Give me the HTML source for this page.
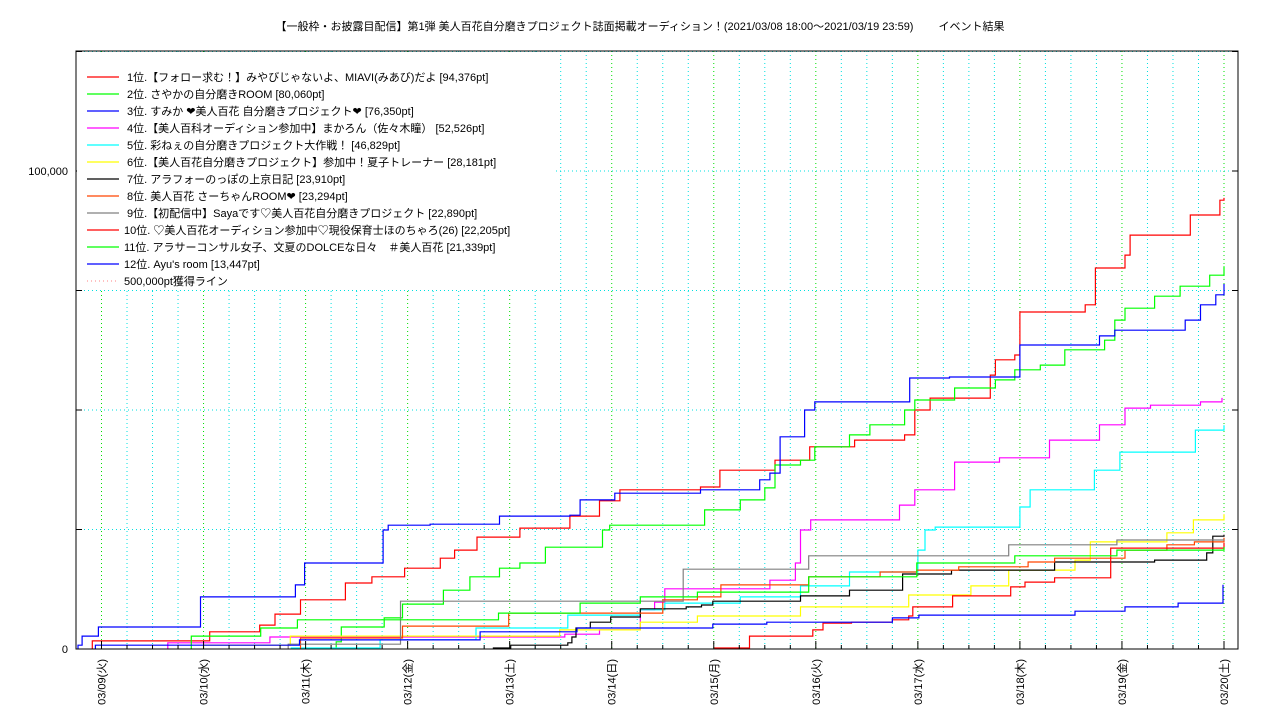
<!DOCTYPE html>
<html><head><meta charset="utf-8">
<style>
body{margin:0;background:#fff;}
svg text{font-family:"Liberation Sans","Noto Sans CJK JP",sans-serif;fill:#000;}
</style></head>
<body>
<svg id="chart" width="1280" height="720" xmlns="http://www.w3.org/2000/svg">
<text x="640" y="30" font-size="11" text-anchor="middle">【一般枠・お披露目配信】第1弾 美人百花自分磨きプロジェクト誌面掲載オーディション！(2021/03/08 18:00〜2021/03/19 23:59)　　 イベント結果</text>
<g id="grid"></g>
<g id="series"></g>
<rect x="76" y="51" width="1162" height="598" fill="none" stroke="#000" stroke-width="1"/>
<g id="axes"></g>
<g id="legend"></g>
</svg>
<script>
const dayLabels = ["03/09(火)","03/10(水)","03/11(木)","03/12(金)","03/13(土)","03/14(日)","03/15(月)","03/16(火)","03/17(水)","03/18(木)","03/19(金)","03/20(土)"];
const yTicks = [0, 100000];
const seriesNames = [
"1位.【フォロー求む！】みやびじゃないよ、MIAVI(みあび)だよ [94,376pt]",
"2位. さやかの自分磨きROOM [80,060pt]",
"3位. すみか ❤美人百花 自分磨きプロジェクト❤ [76,350pt]",
"4位.【美人百科オーディション参加中】まかろん（佐々木瞳） [52,526pt]",
"5位. 彩ねぇの自分磨きプロジェクト大作戦！ [46,829pt]",
"6位.【美人百花自分磨きプロジェクト】参加中！夏子トレーナー [28,181pt]",
"7位. アラフォーのっぽの上京日記 [23,910pt]",
"8位. 美人百花 さーちゃんROOM❤ [23,294pt]",
"9位.【初配信中】Sayaです♡美人百花自分磨きプロジェクト [22,890pt]",
"10位. ♡美人百花オーディション参加中♡現役保育士ほのちゃろ(26) [22,205pt]",
"11位. アラサーコンサル女子、文夏のDOLCEな日々　＃美人百花 [21,339pt]",
"12位. Ayu's room [13,447pt]"
];
const seriesColors = ["#ff0000","#00ff00","#0000ff","#ff00ff","#00ffff","#ffff00","#000000","#ff4500","#808080","#ff0000","#00ff00","#0000ff"];
// [day offset from 03/09 00:00, points]
const s1 = [[-0.09,1700],[1.06,3600],[1.55,5000],[1.70,7300],[1.95,10300],[2.39,13800],[2.65,15100],[2.97,16900],[3.32,19000],[3.46,20700],[3.68,23400],[4.10,25300],[4.59,27800],[4.88,31000],[5.08,33300],[5.87,33900],[6.06,37400],[6.60,39500],[6.94,42300],[7.38,43700],[7.87,44800],[7.97,50000],[8.12,52500],[8.71,57300],[8.76,60500],[8.95,61500],[9.00,70500],[9.64,72000],[9.74,79700],[10.03,82400],[10.08,86600],[10.67,90800],[10.96,93900],[11.00,94376]];
const s2 = [[2.30,1500],[2.35,4600],[2.77,6500],[2.95,9400],[3.35,12300],[3.61,15100],[3.90,16900],[4.10,18000],[4.35,21300],[4.91,24900],[4.98,25900],[5.91,29100],[6.26,31200],[6.50,33700],[6.60,38500],[6.85,39500],[6.99,42300],[7.33,44800],[7.53,46900],[7.87,50000],[7.97,52100],[8.36,54600],[8.76,56300],[8.95,58400],[9.20,59400],[9.44,62600],[9.83,64600],[9.93,68800],[10.03,71300],[10.32,73800],[10.57,75900],[10.86,78200],[11.00,80060]];
const s3 = [[-0.23,800],[-0.19,2700],[-0.03,4600],[0.97,10900],[1.90,13400],[1.99,18000],[2.76,24900],[2.81,25900],[3.22,26100],[3.90,27800],[4.59,28000],[4.69,31200],[5.03,32600],[5.87,33300],[6.45,35400],[6.55,36800],[6.65,44400],[6.89,50000],[6.99,51700],[7.92,56700],[8.31,56900],[9.00,63600],[9.78,65500],[9.93,66700],[10.62,68800],[10.77,72000],[10.92,74100],[11.00,76350]];
const s4 = [[0.65,1300],[1.65,2500],[4.54,3100],[4.88,4000],[5.28,8200],[5.42,9800],[5.52,12600],[6.55,14400],[6.80,18000],[6.85,24900],[6.95,27000],[7.82,30100],[7.97,33300],[8.36,39100],[8.80,40000],[9.29,43700],[9.78,46900],[10.03,50400],[10.28,51000],[10.77,51700],[10.98,52526]];
const s5 = [[1.86,200],[2.73,1900],[3.67,4400],[4.57,7100],[5.28,8200],[5.52,9600],[6.26,10900],[6.85,13200],[7.33,16100],[8.00,20700],[8.07,24900],[8.17,25500],[9.00,29700],[9.10,33300],[9.73,37400],[9.98,41200],[10.72,45800],[11.00,46829]];
const s6 = [[1.00,800],[1.85,2700],[4.49,4000],[5.28,5600],[5.84,6900],[6.85,8800],[7.91,11300],[8.52,13200],[8.89,16500],[9.54,18600],[9.69,22400],[10.44,24300],[10.70,27000],[11.00,28181]];
const s7 = [[3.84,200],[4.01,800],[4.57,1300],[4.61,2500],[4.65,4400],[4.79,5600],[4.99,6700],[5.28,8400],[5.73,8800],[5.88,9200],[5.99,10000],[6.85,11100],[7.33,12300],[7.85,15700],[8.33,16500],[9.34,18200],[10.32,18600],[10.83,20100],[10.89,23600],[11.00,23910]];
const s8 = [[1.95,2300],[2.95,4800],[3.99,7500],[5.50,10300],[5.84,10900],[6.07,13400],[6.93,15100],[7.63,16100],[7.99,16500],[8.40,17200],[9.08,18200],[9.34,19000],[10.03,20700],[10.44,21800],[10.71,22400],[11.00,23294]];
const s9 = [[1.83,1000],[2.93,10000],[5.70,16700],[6.93,19500],[8.89,21800],[9.95,22800],[11.00,22890]];
const s10 = [[6.01,200],[6.35,2700],[6.97,4000],[7.07,5400],[7.35,5600],[7.75,6100],[7.91,6900],[7.95,8800],[8.34,11100],[8.91,13000],[9.05,14000],[9.34,14900],[9.89,21100],[11.00,22205]];
const s11 = [[0.88,2700],[1.56,4400],[1.92,6100],[3.89,7500],[4.69,9600],[5.28,10900],[5.84,11900],[6.93,15100],[7.99,18000],[8.95,19500],[9.95,20700],[11.00,21339]];
const s12 = [[-0.06,800],[1.94,1900],[3.71,3600],[4.66,4400],[5.99,5200],[6.52,5600],[7.75,6500],[8.01,7100],[9.54,7900],[10.03,8800],[10.55,9600],[10.99,13447]];
const allSeries = [s1,s2,s3,s4,s5,s6,s7,s8,s9,s10,s11,s12];

const NS="http://www.w3.org/2000/svg";
const X0=76,X1=1238,Y0=649,Y1=51;
const dayPx=(1224-101.5)/11;
function xs(t){return 101.5+t*dayPx;}
function ys(v){return Y0-v*478/100000;}
function mk(tag,attrs,parent){const e=document.createElementNS(NS,tag);for(const k in attrs)e.setAttribute(k,attrs[k]);parent.appendChild(e);return e;}

const grid=document.getElementById('grid');
// quarter-day grid
for(let q=-1;q<=45;q++){
  const t=q/4; const x=xs(t); if(x<=X0||x>=X1)continue;
  const isDay=(q%4===0);
  const l=mk('line',{x1:x,x2:x,y1:Y1,y2:Y0,stroke:isDay?'#00e000':'#00e0e0','stroke-width':1,'stroke-dasharray':'1,3'},grid);
  
  
}
for(let v=25000;v<=125000;v+=25000){
  const y=ys(v); if(y<=Y1)continue;
  const l=mk('line',{x1:X0,x2:X1,y1:y,y2:y,stroke:'#00e0e0','stroke-width':1,'stroke-dasharray':'1,3'},grid);
  
  
}

const sg=document.getElementById('series');
allSeries.forEach((pts,i)=>{
  let d='M'+xs(pts[0][0]).toFixed(1)+' '+ys(0).toFixed(1)+' V'+ys(pts[0][1]).toFixed(1);
  for(let k=1;k<pts.length;k++){
    d+=' H'+xs(pts[k][0]).toFixed(1)+' V'+ys(pts[k][1]).toFixed(1);
  }
  const p=mk('path',{d:d,fill:'none',stroke:seriesColors[i],'stroke-width':1.2},sg);
  
  
});

const ax=document.getElementById('axes');
// x ticks
for(let q=-1;q<=45;q++){
  const x=xs(q/4); if(x<=X0||x>=X1)continue;
  const len=(q%4===0)?8:4;
  const t=mk('line',{x1:x,x2:x,y1:Y0,y2:Y0-len,stroke:'#000','stroke-width':1},ax);
  
  
}
dayLabels.forEach((lab,i)=>{
  const x=xs(i);
  const t=mk('text',{x:0,y:0,'font-size':11,'text-anchor':'end',transform:'translate('+(x+4)+',659) rotate(-90)'},ax);
  t.textContent=lab;
  
  
});
for(let v=0;v<=125000;v+=25000){
  const y=ys(v); if(y<Y1)continue;
  const a=mk('line',{x1:X0,x2:X0+6,y1:y,y2:y,stroke:'#000','stroke-width':1},ax);
  
  
  const b=mk('line',{x1:X1,x2:X1-6,y1:y,y2:y,stroke:'#000','stroke-width':1},ax);
  
  
}
yTicks.forEach(v=>{
  const t=mk('text',{x:68,y:ys(v)+4,'font-size':11,'text-anchor':'end'},ax);
  t.textContent=v.toLocaleString('en-US');
  
  
});

const lg=document.getElementById('legend');
const bg=mk('rect',{x:77,y:52,width:478,height:238,fill:'#fff'},lg);


seriesNames.forEach((n,i)=>{
  const y=77+17*i;
  const l=mk('line',{x1:87,x2:119,y1:y,y2:y,stroke:seriesColors[i],'stroke-width':1.2},lg);
  
  
  const t=mk('text',{x:i>=9?124:127,y:y+4,'font-size':11},lg);
  t.textContent=n;
  
  
});
const ly=77+17*12;
const dl=mk('line',{x1:87,x2:119,y1:ly,y2:ly,stroke:'#ff8080','stroke-width':1,'stroke-dasharray':'1,3'},lg);


const dt=mk('text',{x:124,y:ly+4,'font-size':11},lg);
dt.textContent='500,000pt獲得ライン';


</script>
</body></html>
